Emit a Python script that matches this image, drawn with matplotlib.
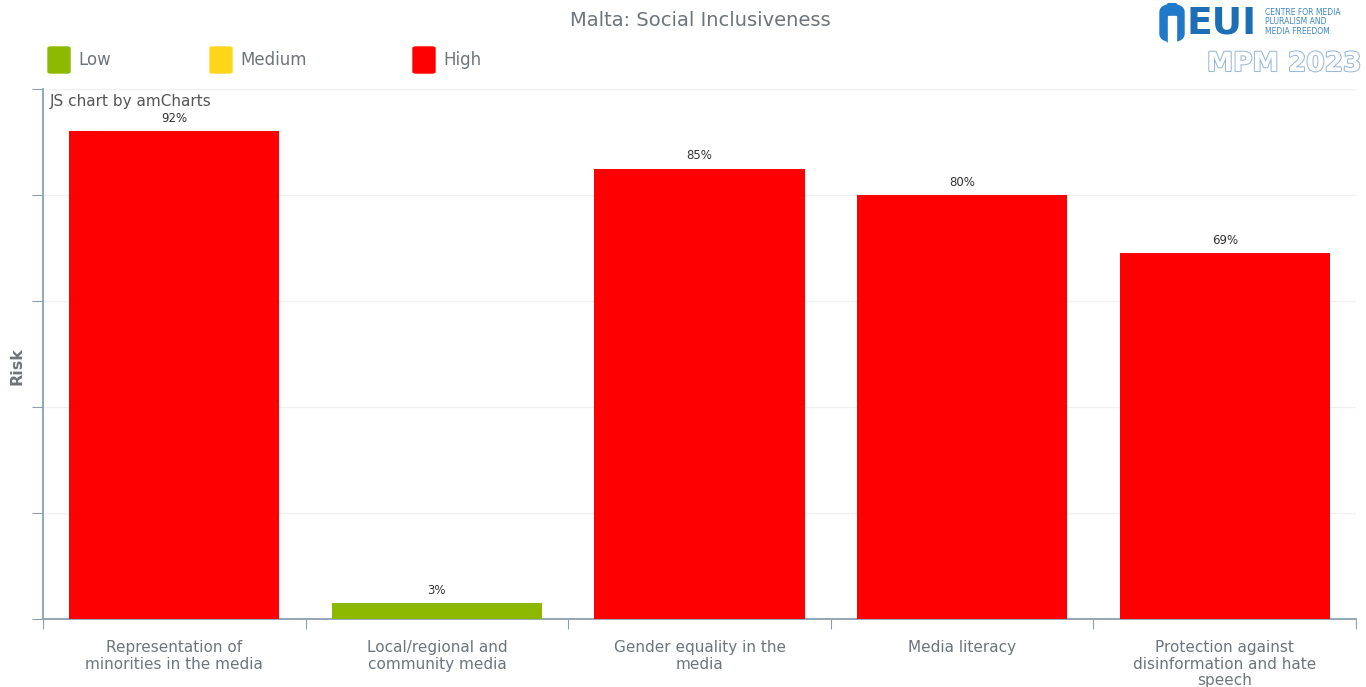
import matplotlib
matplotlib.use("Agg")
import matplotlib.pyplot as plt
import matplotlib.patheffects as pe
from matplotlib.patches import Rectangle, FancyBboxPatch

categories = ["Representation of\nminorities in the media",
              "Local/regional and\ncommunity media",
              "Gender equality in the\nmedia",
              "Media literacy",
              "Protection against\ndisinformation and hate\nspeech"]
values = [92, 3, 85, 80, 69]
risk_levels = ["High", "Low", "High", "High", "High"]
legend_labels = ["Low", "Medium", "High"]
level_colors = {"Low": "#8cb800", "Medium": "#ffd71a", "High": "#ff0000"}

W, H = 1366, 687
fig = plt.figure(figsize=(W / 100, H / 100), dpi=100)
ax = fig.add_axes([43 / W, 68 / H, (1356 - 43) / W, (619 - 89) / H])

axis_col = "#8aa0b0"
text_col = "#6d757c"

x = list(range(len(categories)))
cols = [level_colors[r] for r in risk_levels]
ax.bar(x, values, width=0.8, color=cols, zorder=3)
for xi, v in zip(x, values):
    ax.text(xi, v + 1.2, f"{v}%", ha="center", va="bottom", fontsize=8.5, color="#333333", zorder=4)

ax.set_xlim(-0.5, len(categories) - 0.5)
ax.set_ylim(0, 100)
ax.set_yticks([0, 20, 40, 60, 80, 100])
ax.set_yticklabels([])
ax.yaxis.grid(True, color="#f0f0f0", linewidth=1, zorder=0)
ax.set_xticks([i - 0.5 for i in range(len(categories) + 1)])
ax.set_xticklabels([])
ax.set_xticks(x, minor=True)
ax.set_xticklabels(categories, minor=True, fontsize=11, color=text_col, va="top", linespacing=1.15)
ax.tick_params(axis="x", which="minor", length=0, pad=15)
ax.tick_params(axis="x", which="major", length=7, color=axis_col, direction="out")
ax.tick_params(axis="y", length=8, color=axis_col, direction="out")
for s in ["top", "right"]:
    ax.spines[s].set_visible(False)
for s in ["left", "bottom"]:
    ax.spines[s].set_color(axis_col)
    ax.spines[s].set_linewidth(1.3)

fig.text(17 / W, 1 - 366 / H, "Risk", rotation=90, ha="center", va="center",
         fontsize=11.5, fontweight="bold", color=text_col)

ax.text(0.005, 0.99, "JS chart by amCharts", transform=ax.transAxes, ha="left", va="top",
        fontsize=11, color="#555555", zorder=5)

fig.text(700 / W, 1 - 21 / H, "Malta: Social Inclusiveness", ha="center", va="center",
         fontsize=14, color=text_col)

# legend
leg_x = [48, 210, 413]
for lx, lab in zip(leg_x, legend_labels):
    fig.patches.append(FancyBboxPatch(((lx) / W, 1 - 73 / H), 22 / W, 26 / H,
                                      boxstyle="round,pad=0,rounding_size=0.002",
                                      transform=fig.transFigure, color=level_colors[lab]))
    fig.text((lx + 30) / W, 1 - 60 / H, lab, ha="left", va="center", fontsize=12, color=text_col)

# logo
blue = "#1f78c8"
fig.patches.append(FancyBboxPatch((1160 / W, 1 - 42 / H), 24 / W, 38 / H,
                                  boxstyle="round,pad=0,rounding_size=0.012",
                                  transform=fig.transFigure, color=blue))
fig.patches.append(Rectangle((1168 / W, 1 - 42 / H), 8 / W, 26 / H, transform=fig.transFigure, color="white"))
fig.text(1186 / W, 1 - 23 / H, "EUI", ha="left", va="center", fontsize=27, fontweight="bold",
         color="#1e6eb5", family="Liberation Sans Narrow" if False else "DejaVu Sans Condensed" if False else "DejaVu Sans")
fig.text(1265 / W, 1 - 22 / H, "CENTRE FOR MEDIA\nPLURALISM AND\nMEDIA FREEDOM", ha="left", va="center",
         fontsize=5.5, color="#3a86c8", linespacing=1.1)
fig.text(1284 / W, 1 - 64 / H, "MPM 2023", ha="center", va="center", fontsize=19, fontweight="bold",
         color="white", path_effects=[pe.withStroke(linewidth=1.5, foreground="#9ab8d8")])

fig.savefig("out.png", dpi=100, facecolor="white")
